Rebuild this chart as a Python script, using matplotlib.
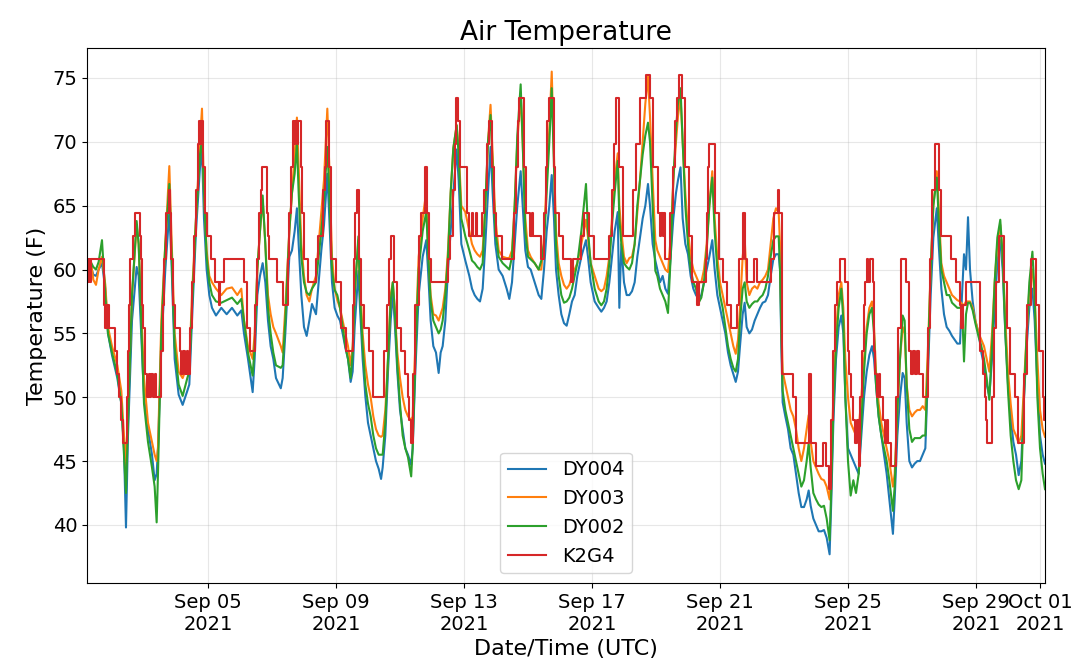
import numpy as np
import pandas as pd
import matplotlib
matplotlib.use("Agg")
import matplotlib.pyplot as plt
import matplotlib.dates as mdates

start = pd.Timestamp("2021-09-01 00:00")

# hours since 2021-09-01 00:00 UTC for the three DY sensors
dy_hours = [
    5.3, 8, 10, 12, 14, 16.5, 19, 21, 24, 28,
    31, 33, 34.5, 36, 39, 42.5, 44, 48, 51, 54,
    56, 57.5, 58.5, 61, 64, 67, 68.5, 71, 74, 77,
    80.5, 82, 84, 87, 90, 91.5, 93, 95, 97, 99,
    102, 106, 110, 114, 118, 121, 123, 126, 129.5, 131,
    133, 135, 137, 139, 141, 143, 145, 147, 150.6, 152,
    154, 157, 159, 161, 162.7, 164, 166, 168, 170, 172,
    174, 177, 179, 181, 183, 185.5, 187, 189, 191, 193,
    195, 197, 199, 201, 203, 204.5, 206, 208.8, 210, 212,
    214, 216, 218, 220, 222, 224, 225.8, 227, 229, 231,
    233, 234.6, 236, 238, 240, 242, 244, 246, 248.4, 249.5,
    251.5, 254, 257, 259.7, 261, 263, 265, 267, 269, 270.5,
    272, 274, 276, 278, 280, 282.5, 284, 286, 289, 292,
    294, 296, 298, 300, 302, 304, 306, 307.9, 309.5, 311.5,
    314, 317, 320, 322, 324, 326, 328, 330.5, 332, 334,
    336, 338, 341, 344, 346, 348, 350, 352, 353.8, 355.5,
    357, 359, 361, 363, 365, 367, 369, 371, 373, 376,
    379.5, 381, 383, 386, 389, 391, 393, 395, 397, 399,
    401, 403.3, 404.5, 406, 408, 410, 412, 414, 416, 418,
    420, 422, 424, 426, 427.5, 429.5, 431.5, 433, 435, 437,
    439, 441, 443, 445, 447, 448.5, 450.4, 452, 454, 456,
    458, 460, 462, 464, 466, 468, 470, 472, 474.2, 476,
    478, 480, 482, 484, 486, 488, 490, 491.8, 493.5, 495,
    497, 498.5, 500, 502, 504, 506, 508, 510, 512, 514,
    516, 518, 520, 522, 524, 525, 526, 527, 529, 531,
    533, 535, 537, 539, 541, 543, 545, 546.5, 548, 550,
    552, 554, 556, 558, 560, 562.2, 563.5, 565, 567, 569,
    571, 572.5, 574, 576, 578, 580, 582, 584, 586, 588,
    590, 592, 594, 595.5, 597, 599, 601, 603, 605, 607,
    609.7, 611, 613, 615, 617, 618.5, 620, 622, 624, 626,
    628, 630, 632, 634, 636, 638, 640, 642.6, 644, 646,
    648, 650, 652, 654, 656, 658, 660, 661.5, 663, 664.5,
    666, 667.5, 669.5, 671.5, 674, 676, 678, 680, 682, 684,
    686, 688, 690.2, 692, 694, 696, 698, 700, 702, 704,
    706, 708, 710, 712, 714.3, 716, 718, 720, 722, 723.75,
]

dy004 = [
    59.8, 60.3, 59.6, 59.5, 60.0, 60.5, 58.5, 55.0, 53.3, 51.5,
    49.5, 46.0, 39.8, 47.0, 56.0, 60.2, 59.5, 50.0, 47.5, 45.5,
    43.5, 44.0, 46.0, 54.0, 60.0, 64.5, 61.0, 53.0, 50.2, 49.4,
    50.5, 51.0, 56.0, 63.0, 68.0, 69.4, 64.0, 60.0, 58.0, 57.0,
    56.4, 57.0, 56.5, 57.0, 56.4, 56.8, 55.0, 53.0, 50.4, 53.0,
    58.0, 59.5, 60.5, 59.0, 56.0, 54.0, 53.0, 51.5, 50.7, 51.5,
    55.0, 61.0, 61.5, 63.0, 64.8, 62.0, 58.0, 55.5, 54.8, 56.0,
    57.3, 56.5, 59.0, 61.5, 63.5, 67.5, 64.0, 59.0, 57.0, 56.4,
    56.0, 55.0, 53.9, 53.0, 51.2, 52.0, 55.5, 59.9, 57.0, 53.0,
    50.1, 48.0, 47.0, 46.0, 45.0, 44.4, 43.6, 44.5, 47.0, 52.0,
    56.0, 58.2, 56.0, 52.0, 49.0, 47.5, 46.0, 45.5, 44.7, 46.0,
    52.0, 58.0, 61.0, 62.3, 60.0, 56.0, 54.0, 53.5, 51.9, 53.5,
    54.0, 56.0, 60.0, 63.0, 66.0, 69.4, 67.0, 62.0, 60.7, 59.5,
    58.5, 58.0, 57.7, 57.5, 58.5, 62.0, 66.0, 69.6, 66.0, 62.0,
    60.0, 59.5, 58.5, 57.7, 59.0, 62.0, 65.0, 67.7, 65.0, 61.5,
    60.2, 60.0, 59.0, 58.0, 57.7, 60.0, 63.0, 65.0, 67.4, 64.0,
    60.0, 58.0, 56.5, 55.8, 55.6, 56.5, 57.5, 58.0, 59.5, 61.0,
    62.3, 61.0, 59.0, 57.5, 57.0, 56.7, 57.0, 57.5, 59.0, 61.0,
    63.0, 64.5, 57.0, 62.0, 59.0, 58.0, 58.0, 58.3, 59.0, 61.0,
    62.5, 64.0, 65.0, 66.7, 65.0, 62.0, 60.7, 60.0, 59.0, 59.5,
    58.5, 58.1, 61.0, 64.0, 66.0, 67.0, 68.0, 64.0, 62.0, 61.2,
    59.5, 58.5, 58.0, 57.7, 58.0, 59.0, 60.0, 61.0, 62.3, 60.0,
    58.0, 57.0, 56.0, 55.0, 53.5, 52.5, 51.8, 51.2, 52.0, 54.0,
    56.5, 57.4, 55.5, 55.0, 55.3, 56.0, 56.5, 57.0, 57.4, 57.5,
    58.0, 59.5, 60.8, 61.2, 61.2, 60.0, 54.0, 49.6, 48.5, 47.5,
    46.0, 45.5, 44.0, 42.5, 41.4, 41.4, 42.0, 42.7, 41.5, 40.5,
    40.0, 39.5, 39.5, 39.6, 39.0, 37.7, 42.0, 48.0, 53.0, 55.5,
    56.4, 55.0, 50.0, 46.0, 45.5, 45.0, 44.5, 44.0, 47.0, 50.0,
    52.0, 53.3, 54.0, 53.0, 51.0, 48.5, 47.0, 45.5, 44.0, 42.0,
    39.3, 42.0, 47.0, 50.0, 51.9, 51.5, 48.0, 45.0, 44.5, 44.8,
    45.0, 45.0, 45.5, 46.0, 52.0, 58.0, 62.5, 64.8, 62.0, 58.5,
    56.5, 55.5, 55.2, 54.8, 54.5, 54.2, 54.2, 58.0, 61.2, 60.0,
    64.1, 60.0, 57.5, 56.0, 55.0, 53.5, 52.5, 51.0, 50.1, 53.0,
    57.0, 60.5, 62.3, 60.0, 55.0, 51.0, 48.5, 46.5, 45.5, 43.9,
    45.0, 50.0, 54.0, 57.0, 58.5, 56.0, 51.0, 47.0, 45.5, 44.8,
]

dy003 = [
    59.5, 60.8, 59.2, 58.8, 60.0, 61.0, 58.8, 55.5, 54.0, 52.5,
    50.5, 47.0, 44.7, 49.0, 58.0, 63.5, 62.0, 51.5, 48.0, 46.5,
    45.5, 45.0, 46.0, 56.0, 62.0, 68.1, 63.0, 55.0, 52.0, 51.5,
    52.5, 52.5, 58.0, 64.0, 70.0, 72.6, 66.0, 61.5, 59.5, 59.0,
    58.5, 58.0, 58.5, 58.6, 58.0, 58.5, 56.0, 54.0, 53.0, 55.0,
    60.0, 63.0, 65.5, 62.0, 58.0, 56.5, 55.5, 55.0, 54.0, 53.5,
    57.0, 63.0, 66.0, 69.0, 71.9, 68.0, 62.0, 59.5, 58.0, 57.5,
    58.5, 59.5, 62.0, 64.5, 67.0, 72.6, 68.0, 61.0, 58.5, 57.6,
    57.0, 56.0, 55.0, 54.0, 52.5, 54.0, 58.0, 62.3, 59.0, 55.0,
    52.5, 51.0, 50.0, 48.5, 47.5, 47.0, 46.9, 47.0, 49.0, 53.0,
    58.0, 59.0, 57.0, 53.5, 51.5, 50.0, 49.0, 48.5, 48.2, 48.5,
    54.0, 61.0, 64.0, 66.1, 62.0, 58.0, 56.5, 56.4, 56.0, 56.5,
    57.0, 58.5, 61.5, 66.0, 69.5, 71.3, 69.5, 65.0, 64.5, 63.0,
    62.0, 61.5, 61.2, 61.0, 61.5, 65.0, 70.0, 72.9, 69.0, 64.0,
    61.5, 61.0, 60.9, 60.9, 61.5, 65.0, 70.0, 73.7, 70.0, 64.0,
    61.5, 61.0, 60.5, 60.0, 60.0, 62.5, 67.0, 71.0, 75.5, 69.0,
    63.0, 60.5, 59.5, 58.8, 58.5, 58.8, 59.5, 60.0, 60.5, 62.0,
    63.9, 62.5, 60.5, 59.5, 58.5, 58.3, 58.5, 59.5, 61.0, 64.0,
    67.0, 69.1, 65.0, 63.0, 61.0, 60.5, 60.9, 61.0, 62.0, 64.5,
    67.0, 70.0, 73.0, 75.1, 72.0, 67.0, 62.3, 61.5, 61.0, 60.5,
    60.0, 59.8, 62.5, 67.0, 70.0, 72.0, 73.5, 70.0, 66.0, 63.0,
    61.0, 60.0, 59.5, 59.0, 59.0, 60.0, 62.0, 65.0, 67.7, 64.0,
    61.0, 59.0, 58.0, 57.0, 56.0, 55.0, 54.0, 53.4, 54.5, 57.0,
    61.0, 62.5, 59.0, 58.0, 58.5, 58.7, 58.5, 59.0, 59.2, 59.5,
    60.0, 62.0, 64.0, 64.8, 64.5, 62.0, 56.0, 52.0, 51.0, 50.0,
    49.0, 48.5, 47.5, 46.0, 45.0, 46.0, 47.5, 48.6, 46.5, 45.0,
    44.5, 44.0, 43.6, 43.5, 43.0, 42.0, 45.0, 50.0, 55.0, 58.0,
    59.0, 57.0, 53.0, 50.0, 48.0, 47.5, 47.0, 47.5, 50.0, 53.0,
    55.5, 57.0, 57.5, 55.5, 52.0, 49.5, 48.0, 47.0, 46.0, 45.0,
    43.0, 44.0, 49.0, 53.0, 55.5, 55.0, 51.0, 49.0, 48.5, 48.8,
    49.0, 49.0, 49.3, 49.0, 54.0, 60.0, 65.0, 67.7, 65.0, 60.5,
    59.5, 59.0, 58.5, 58.0, 57.8, 57.6, 57.5, 57.3, 57.2, 57.5,
    57.5, 57.5, 57.0, 56.0, 55.0, 54.5, 54.0, 53.0, 52.0, 55.0,
    59.0, 62.0, 63.5, 61.0, 56.0, 52.0, 49.5, 47.5, 47.0, 46.4,
    47.0, 51.0, 55.0, 58.5, 60.0, 58.0, 53.0, 49.0, 47.5, 46.9,
]

dy002 = [
    60.2, 60.6, 60.2, 60.0, 60.6, 62.3, 58.0, 55.0, 53.5, 51.8,
    49.5, 45.5, 42.5, 48.0, 58.0, 63.8, 62.0, 49.5, 46.5, 44.5,
    43.0, 40.2, 44.0, 55.0, 62.0, 66.7, 62.0, 54.0, 51.0, 50.1,
    51.5, 52.0, 57.0, 64.0, 69.0, 70.2, 66.0, 61.0, 59.0, 58.0,
    57.5, 57.4, 57.6, 57.8, 57.3, 57.7, 56.0, 53.5, 51.7, 54.0,
    60.0, 63.0, 65.8, 62.0, 57.0, 55.0, 53.5, 52.5, 52.3, 52.5,
    56.0, 63.0, 66.0, 67.5, 69.9, 66.0, 61.0, 59.0, 58.2, 58.0,
    58.5, 59.0, 61.0, 63.0, 65.5, 69.6, 66.0, 60.0, 58.4, 58.0,
    57.0, 55.5, 54.0, 53.0, 51.5, 53.5, 58.0, 62.6, 58.0, 54.0,
    51.0, 49.5, 48.5, 47.0, 46.0, 45.5, 45.5, 45.5, 48.0, 53.0,
    57.5, 59.0, 57.0, 52.5, 49.5, 47.0, 46.0, 45.3, 43.8, 46.0,
    53.0, 60.0, 63.0, 64.5, 61.5, 57.5, 56.0, 55.5, 55.0, 55.3,
    56.0, 58.0, 61.0, 66.0, 69.5, 71.3, 69.0, 64.0, 62.6, 61.5,
    60.7, 60.5, 60.2, 60.0, 60.5, 65.0, 70.0, 72.1, 68.0, 63.0,
    61.0, 60.5, 60.2, 60.0, 61.0, 65.0, 70.5, 74.5, 70.0, 63.0,
    61.0, 60.8, 60.5, 60.0, 60.7, 62.0, 66.0, 70.0, 74.2, 68.0,
    62.0, 59.5, 58.0, 57.4, 57.5, 57.8, 58.5, 59.5, 60.5, 63.0,
    66.7, 63.0, 60.5, 58.5, 57.5, 57.2, 57.5, 58.5, 60.5, 63.5,
    66.0, 68.5, 64.0, 62.0, 60.5, 60.2, 60.0, 60.5, 62.0, 65.0,
    67.0, 69.0, 70.5, 71.5, 70.0, 65.0, 59.9, 59.5, 58.5, 58.0,
    57.5, 56.6, 61.0, 67.0, 71.0, 73.0, 74.2, 70.0, 65.0, 62.0,
    60.0, 59.0, 58.5, 57.4, 57.8, 59.0, 61.5, 65.0, 67.2, 63.0,
    60.0, 58.0, 57.0, 55.5, 54.0, 53.0, 52.3, 52.0, 53.0, 56.0,
    58.5, 59.0, 57.5, 57.0, 57.3, 57.5, 57.5, 57.8, 58.0, 58.5,
    59.5, 61.0, 62.3, 62.6, 62.6, 60.0, 55.0, 50.5, 49.0, 48.0,
    47.0, 46.0, 45.0, 44.0, 43.0, 43.5, 45.0, 46.4, 44.5, 42.5,
    42.0, 41.6, 41.4, 41.5, 40.5, 38.8, 43.0, 49.0, 54.0, 57.0,
    58.5, 56.0, 50.0, 45.0, 42.3, 43.5, 42.5, 44.0, 48.0, 52.0,
    55.0, 56.5, 57.0, 55.0, 51.0, 48.5, 47.0, 46.0, 45.0, 43.5,
    41.1, 43.0, 49.0, 53.0, 56.4, 56.0, 51.0, 47.5, 46.5, 46.8,
    46.8, 46.8, 47.0, 47.0, 53.0, 60.0, 65.0, 67.2, 64.0, 60.0,
    59.0, 58.0, 58.0, 57.4, 57.2, 57.0, 57.0, 57.2, 52.8, 56.5,
    57.4, 57.4, 56.8, 55.8, 54.7, 54.0, 53.0, 51.5, 49.8, 54.0,
    59.0, 62.5, 63.9, 61.0, 55.0, 50.5, 47.0, 45.0, 43.5, 42.8,
    43.5, 50.0, 55.0, 59.0, 61.4, 58.0, 50.0, 46.0, 44.0, 42.8,
]

# K2G4 airport station (whole-degree Celsius readings -> stepped F values)
k2g4_hours = [
    5.3, 6, 6.8, 7.5, 8.3, 17.8, 18.5, 19.3, 20, 20.8,
    21.5, 26.5, 28, 29.5, 31, 32.3, 35.3, 36, 37, 37.8,
    39.5, 41.5, 44.8, 45.5, 46.5, 47.5, 48.5, 50, 51.5, 52.5,
    53.5, 54.5, 56, 57, 61, 62, 63, 64.5, 66.5, 67.8,
    68.5, 69.5, 71, 75, 76, 77.5, 78.5, 80, 81, 82.8,
    84, 85.5, 87, 88.5, 89.5, 90, 90.5, 91, 91.5, 92.3,
    93.5, 95, 98, 101.5, 104, 105, 108, 123, 125.5, 127.8,
    131.5, 132.5, 134, 135.5, 136.5, 140.3, 141, 142, 148, 152.6,
    155.7, 157, 158.5, 159.4, 160.5, 161.5, 162.5, 163.5, 165.7, 166.5,
    168, 170.7, 177, 178.2, 182, 183.5, 184.5, 187, 188, 192,
    195.8, 199.5, 204.5, 205.5, 206.5, 208, 209.5, 211, 213, 217,
    219.6, 228.3, 230, 231.5, 233.4, 235.4, 237.5, 240.9, 243.4, 245.9,
    247, 248, 249.6, 251.5, 254, 255.5, 259, 260.4, 262, 263.4,
    276, 277.5, 279.5, 281, 282.2, 283.5, 285, 290, 292, 294,
    295, 297, 298, 301.5, 303, 305, 306.6, 309.2, 310.5, 312,
    316.7, 325.5, 327, 328.2, 329.2, 333, 334.5, 337.5, 339, 340,
    345.5, 348, 349.5, 350.5, 351.8, 355.6, 356.5, 359.4, 361.9, 368.5,
    369.5, 375.7, 378.2, 382, 385.8, 397, 399, 400.5, 402, 404.6,
    406.9, 414.6, 417, 420, 424.7, 427.2, 429.7, 433.5, 435, 436,
    437, 438, 439, 442.8, 444.5, 446, 447.5, 449, 451.6, 454,
    456.6, 459.1, 463, 464.2, 469.2, 470.5, 471, 471.7, 476.2, 479.5,
    482, 485.5, 488, 493, 494.5, 497.3, 498.8, 500.3, 505.6, 507.4,
    518.2, 520.7, 523.2, 524.5, 526.5, 534.5, 537, 547, 548.6, 552,
    557, 559.5, 561.7, 563.2, 564.5, 566, 568, 569.7, 573.5, 576,
    577, 578.5, 580, 581.5, 582.5, 583.9, 585.2, 586.5, 588, 589,
    590, 590.8, 592.6, 594.5, 595.5, 596.5, 598, 599, 600, 602,
    603.5, 605, 606, 608, 611.8, 613.5, 615.5, 619.3, 621.9, 623.5,
    625, 626.5, 628, 629.5, 632, 635.8, 637.5, 639, 641.6, 644.2,
    645.5, 653.5, 657.3, 659.8, 661, 662, 664.5, 675, 677.5, 678.8,
    679.5, 680.5, 684.3, 685.5, 687, 689, 692.8, 695.3, 697.8, 701.6,
    703.4, 708, 710, 713, 716.8, 719.3, 721.9, 722.8, 723.75,
]

k2g4 = [
    60.8, 59.0, 60.8, 59.0, 60.8, 57.2, 55.4, 57.2, 55.4, 57.2,
    55.4, 53.6, 51.8, 50.0, 48.2, 46.4, 50.0, 53.6, 57.2, 60.8,
    62.6, 64.4, 62.6, 60.8, 57.2, 55.4, 51.8, 50.0, 51.8, 50.0,
    51.8, 50.0, 51.8, 50.0, 53.6, 57.2, 60.8, 64.4, 66.2, 64.4,
    60.8, 57.2, 55.4, 53.6, 51.8, 53.6, 51.8, 53.6, 51.8, 55.4,
    59.0, 62.6, 66.2, 69.8, 71.6, 69.8, 71.6, 69.8, 71.6, 68.0,
    64.4, 62.6, 60.8, 59.0, 57.2, 59.0, 60.8, 59.0, 55.4, 53.6,
    57.2, 60.8, 64.4, 66.2, 68.0, 64.4, 62.6, 60.8, 59.0, 57.2,
    60.8, 64.4, 68.0, 71.6, 69.8, 71.6, 69.8, 71.6, 68.0, 64.4,
    60.8, 59.0, 60.8, 62.6, 66.2, 68.0, 71.6, 68.0, 60.8, 59.0,
    55.4, 53.6, 57.2, 60.8, 64.4, 66.2, 60.8, 57.2, 55.4, 53.6,
    50.0, 53.6, 57.2, 60.8, 62.6, 59.0, 55.4, 53.6, 51.8, 50.0,
    48.2, 46.4, 51.8, 57.2, 62.6, 64.4, 68.0, 64.4, 60.8, 59.0,
    60.8, 62.6, 66.2, 69.8, 73.4, 71.6, 68.0, 64.4, 62.6, 64.4,
    62.6, 64.4, 62.6, 64.4, 66.2, 69.8, 71.6, 68.0, 64.4, 62.6,
    60.8, 64.4, 68.0, 71.6, 73.4, 68.0, 64.4, 62.6, 64.4, 62.6,
    60.8, 64.4, 68.0, 71.6, 73.4, 68.0, 64.4, 62.6, 60.8, 59.0,
    60.8, 62.6, 64.4, 62.6, 60.8, 62.6, 66.2, 69.8, 73.4, 68.0,
    62.6, 66.2, 69.8, 73.4, 75.2, 73.4, 68.0, 64.4, 62.6, 64.4,
    62.6, 64.4, 60.8, 64.4, 68.0, 71.6, 73.4, 75.2, 73.4, 68.0,
    62.6, 59.0, 57.2, 59.0, 60.8, 64.4, 68.0, 69.8, 64.4, 60.8,
    59.0, 57.2, 55.4, 57.2, 60.8, 64.4, 60.8, 59.0, 60.8, 59.0,
    60.8, 64.4, 66.2, 64.4, 51.8, 50.0, 46.4, 51.8, 46.4, 44.6,
    46.4, 44.6, 42.8, 48.2, 53.6, 57.2, 59.0, 60.8, 59.0, 53.6,
    51.8, 50.0, 48.2, 46.4, 48.2, 44.6, 50.0, 53.6, 57.2, 59.0,
    60.8, 59.0, 60.8, 59.0, 53.6, 51.8, 50.0, 51.8, 50.0, 48.2,
    46.4, 48.2, 46.4, 44.6, 50.0, 55.4, 60.8, 59.0, 53.6, 51.8,
    53.6, 51.8, 53.6, 51.8, 50.0, 55.4, 60.8, 66.2, 69.8, 66.2,
    62.6, 60.8, 59.0, 57.2, 55.4, 57.2, 59.0, 53.6, 51.8, 50.0,
    48.2, 46.4, 50.0, 55.4, 59.0, 62.6, 59.0, 55.4, 51.8, 50.0,
    46.4, 51.8, 57.2, 60.8, 57.2, 53.6, 50.0, 48.2, 48.2,
]

assert len(dy_hours) == len(dy004) == len(dy003) == len(dy002)
assert len(k2g4_hours) == len(k2g4)


def to_time(hours):
    return start + pd.to_timedelta(np.asarray(hours, dtype=float), unit="h")


t_dy = to_time(dy_hours)
t_k = to_time(k2g4_hours)

fig = plt.figure(figsize=(10.8, 6.71), dpi=100)
ax = fig.add_axes([0.0806, 0.1311, 0.887, 0.7974])

ax.plot(t_dy, dy004, color="C0", lw=1.5, label="DY004")
ax.plot(t_dy, dy003, color="C1", lw=1.5, label="DY003")
ax.plot(t_dy, dy002, color="C2", lw=1.5, label="DY002")
ax.plot(t_k, k2g4, color="C3", lw=1.5, drawstyle="steps-post", label="K2G4")

ax.set_xlim(t_dy[0], t_dy[-1])
ax.set_ylim(35.45, 77.35)

ax.xaxis.set_major_locator(mdates.DayLocator(bymonthday=[1, 5, 9, 13, 17, 21, 25, 29]))
ax.xaxis.set_major_formatter(mdates.DateFormatter("%b %d\n%Y"))

ax.grid(True, color="#b0b0b0", alpha=0.3)
ax.tick_params(labelsize=14)
ax.set_title("Air Temperature", fontsize=19)
ax.set_xlabel("Date/Time (UTC)", fontsize=16)
ax.set_ylabel("Temperature (F)", fontsize=16)
ax.legend(loc="lower center", fontsize=14)

fig.savefig("out.png", dpi=100)
